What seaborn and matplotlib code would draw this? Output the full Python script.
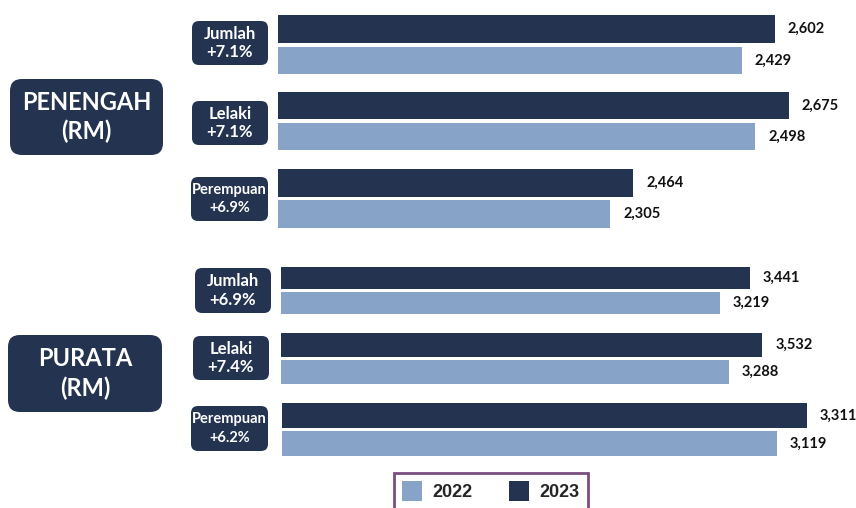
import matplotlib
matplotlib.use('Agg')

import matplotlib.pyplot as plt
import seaborn as sns
import pandas as pd
from matplotlib.patches import FancyBboxPatch

sns.set_theme(style='white')
plt.rcParams['font.family'] = ['Lato', 'DejaVu Sans']

# 数据
kategori = ['Jumlah', 'Lelaki', 'Perempuan']
tahun = ['2022', '2023']
penengah_2022 = [2429, 2498, 2305]
penengah_2023 = [2602, 2675, 2464]
purata_2022 = [3219, 3288, 3119]
purata_2023 = [3441, 3532, 3311]
pct_penengah = ['+7.1%', '+7.1%', '+6.9%']
pct_purata = ['+6.9%', '+7.4%', '+6.2%']

warna = {'2022': '#87A3C8', '2023': '#243350'}

W, H = 856, 508
fig = plt.figure(figsize=(W / 100, H / 100), dpi=100)

# 每组一个坐标轴（原图各组比例不同）：left_px, 深色中心 y, 间距, xmax
layout = [
    (278, 29, 31.5, 2932), (278, 105.5, 31, 2932), (278, 183, 31, 3886),
    (281, 278, 25, 4088), (281, 345, 27, 4088), (282, 415.5, 28, 3506),
]
right_px = 838

groups = []
for i in range(3):
    groups.append((penengah_2022[i], penengah_2023[i]))
for i in range(3):
    groups.append((purata_2022[i], purata_2023[i]))

handles, labels = None, None
for (v22, v23), (lx, cy, sp, xmax) in zip(groups, layout):
    top = cy - sp / 2
    bot = cy + sp * 1.5
    ax = fig.add_axes([lx / W, 1 - bot / H, (right_px - lx) / W, (bot - top) / H])
    df = pd.DataFrame({'tahun': tahun, 'nilai': [v22, v23]})
    sns.barplot(data=df, x='nilai', y='tahun', hue='tahun', order=['2023', '2022'],
                hue_order=tahun, palette=warna, saturation=1, width=0.88, dodge=False,
                linewidth=0, ax=ax, legend=handles is None)
    if handles is None:
        handles, labels = ax.get_legend_handles_labels()
        ax.legend_.remove()
    ax.set_xlim(0, xmax)
    ax.set_ylim(1.5, -0.5)
    ax.axis('off')
    for cont in ax.containers:
        for bar in cont:
            w = bar.get_width()
            ax.annotate(f'{w:,.0f}', (w, bar.get_y() + bar.get_height() / 2),
                        xytext=(13, 0), textcoords='offset pixels',
                        va='center', ha='left', fontsize=10.5, fontweight='bold',
                        color='#111111', annotation_clip=False)

# 文字标签框（像素坐标叠加层）
ov = fig.add_axes([0, 0, 1, 1], zorder=-1)
ov.set_xlim(0, W)
ov.set_ylim(H, 0)
ov.axis('off')


def kotak(x0, y0, x1, y1, teks, fs, r, ls):
    ov.add_patch(FancyBboxPatch((x0 + r, y0 + r), x1 - x0 - 2 * r, y1 - y0 - 2 * r,
                                boxstyle=f'round,pad={r},rounding_size={r}',
                                fc='#243350', ec='none'))
    ov.text((x0 + x1) / 2, (y0 + y1) / 2, teks, ha='center', va='center',
            color='white', fontsize=fs, fontweight='bold', linespacing=ls)


kotak(10, 79, 163, 155, 'PENENGAH\n(RM)', 17, 12, 1.3)
kotak(8, 335, 162, 412, 'PURATA\n(RM)', 17, 12, 1.3)
kecil = [(192, 21, 268, 65), (192, 101, 268, 145), (191, 177, 268, 221),
         (195, 268, 271, 313), (193, 336, 269, 380), (191, 406, 268, 451)]
pcts = pct_penengah + pct_purata
for i, (x0, y0, x1, y1) in enumerate(kecil):
    nama = kategori[i % 3]
    fs = 10.5 if nama == 'Perempuan' else 12
    kotak(x0, y0, x1, y1, f'{nama}\n{pcts[i]}', fs, 7, 1.2 if nama != 'Perempuan' else 1.45)

leg = fig.legend(handles, labels, loc='upper left', bbox_to_anchor=(394 / W, 1 - 473 / H),
                 borderaxespad=0, ncol=2, frameon=True, fancybox=False,
                 handlelength=1.1, handleheight=1.3, columnspacing=2.0,
                 handletextpad=0.6, borderpad=0.45,
                 prop={'family': 'Liberation Sans', 'weight': 'bold', 'size': 13})
leg.get_frame().set_edgecolor('#5A1F5E')
leg.get_frame().set_linewidth(2)

fig.savefig('out.png', dpi=100)
